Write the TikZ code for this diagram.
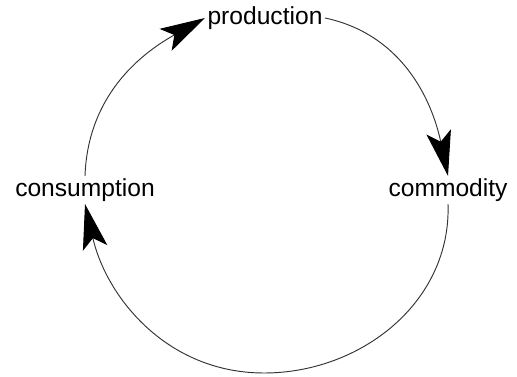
\documentclass[tikz,border=0pt]{standalone}
\usepackage{fontspec}
\setmainfont{Liberation Sans}
\usetikzlibrary{arrows.meta}

\begin{document}
\begin{tikzpicture}[x=0.03cm,y=0.03cm,
  stage/.style={inner sep=2pt,font=\fontsize{21}{25}\selectfont},
  flow/.style={line width=0.8pt,black!80,-{Stealth[length=1.35cm,width=0.75cm,inset=0.3cm,black]}}]

\useasboundingbox (0,0) rectangle (517,377);

\node [stage] (production) at (265,359) {production};
\node [stage] (commodity) at (448,187) {commodity};
\node [stage] (consumption) at (85,187) {consumption};
\coordinate [] (bottom) at (264,4);

\draw [flow] (production.east) to[out=-12,in=102] (commodity.north);
\draw [flow] (commodity.south) to[out=-88,in=0] (bottom) to[out=180,in=-77] (consumption.south);
\draw [flow] (consumption.north) to[out=88,in=209] (production.west);

\end{tikzpicture}
\end{document}
